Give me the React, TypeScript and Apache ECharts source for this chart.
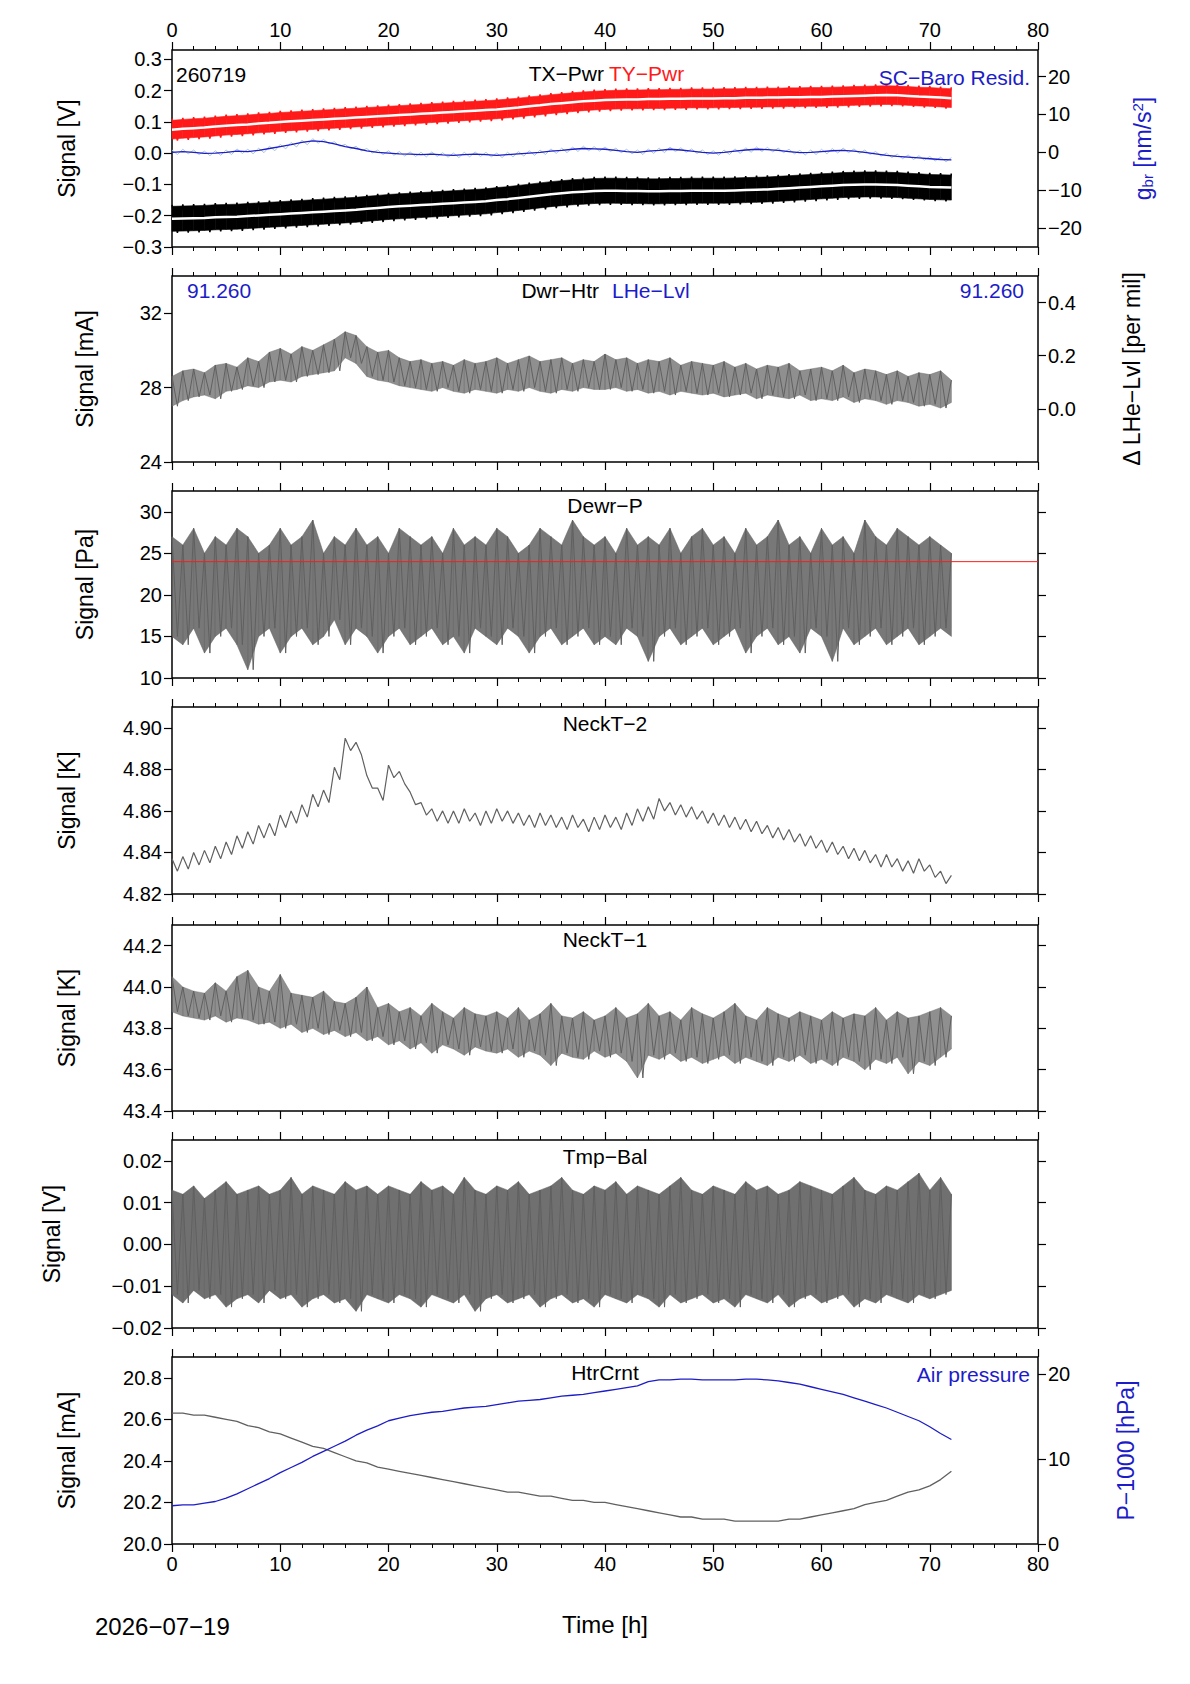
import { useEffect, useRef } from 'react';
import * as echarts from 'echarts';

// hourly samples, 0..72 h
const hours = Array.from({ length: 73 }, (_, i) => i);

// panel 1: TX/TY power (V) and SC baro residual (nm/s^2)
const tyPwr = [.075,.078,.080,.082,.085,.088,.090,.092,.095,.097,.100,.102,.104,.106,.108,.110,.112,.114,.116,.118,.120,.122,.124,.126,.128,.130,.132,.134,.136,.138,.140,.143,.146,.150,.153,.157,.160,.163,.166,.168,.170,.171,.172,.172,.173,.173,.174,.174,.175,.175,.175,.176,.176,.177,.177,.178,.178,.179,.179,.180,.180,.181,.182,.183,.184,.185,.186,.185,.183,.181,.180,.178,.176];
const txPwr = [-.210,-.209,-.208,-.207,-.205,-.204,-.203,-.201,-.199,-.197,-.195,-.193,-.191,-.189,-.187,-.185,-.183,-.181,-.178,-.175,-.172,-.170,-.168,-.166,-.164,-.162,-.160,-.158,-.156,-.154,-.150,-.147,-.143,-.139,-.135,-.131,-.128,-.125,-.123,-.121,-.120,-.120,-.121,-.121,-.122,-.122,-.121,-.121,-.120,-.120,-.120,-.120,-.119,-.118,-.117,-.116,-.114,-.112,-.110,-.108,-.106,-.104,-.102,-.101,-.100,-.100,-.101,-.102,-.104,-.106,-.108,-.109,-.110];
const tyNoise = 0.03;
const txNoise = 0.04;
const baroResid = [0,0.2,0,-0.3,-0.2,0,0.3,0.2,0.5,1.0,1.5,2.0,2.6,3.0,2.8,2.2,1.5,1.0,0.4,0,-0.2,-0.4,-0.5,-0.6,-0.5,-0.7,-0.8,-0.6,-0.5,-0.6,-0.8,-0.6,-0.4,-0.2,0,0.3,0.5,0.8,1.0,0.9,0.8,0.5,0.2,0,0.3,0.5,0.8,0.6,0.3,0,-0.2,0,0.3,0.6,0.8,0.7,0.5,0.2,-0.1,0,0.2,0.4,0.5,0.3,0,-0.4,-0.8,-1.1,-1.3,-1.5,-1.7,-1.9,-2.0];
const baroNoise = 0.6;

// panel 2: dewar heater (mA)
const dwrHtrHi = [28.6,28.9,29.0,28.8,29.2,29.3,29.1,29.6,29.4,29.9,30.1,29.8,30.2,30.0,30.3,30.6,31.0,30.8,30.2,29.9,30.0,29.6,29.4,29.5,29.3,29.4,29.2,29.5,29.3,29.4,29.6,29.3,29.5,29.7,29.4,29.5,29.6,29.3,29.5,29.4,29.8,29.5,29.6,29.3,29.5,29.4,29.6,29.2,29.4,29.3,29.2,29.4,29.1,29.3,29.0,29.2,29.1,29.3,28.9,29.0,29.1,28.9,29.2,28.8,29.0,28.9,28.7,28.9,28.6,28.8,28.7,28.9,28.4];
const dwrHtrLo = [27.0,27.3,27.5,27.6,27.4,27.8,27.9,28.1,28.0,28.3,28.4,28.3,28.6,28.7,28.8,28.9,29.6,29.3,28.6,28.4,28.3,28.1,28.0,27.9,27.8,28.0,27.8,27.7,27.9,27.8,27.7,27.9,27.8,28.0,27.8,27.7,27.9,27.8,28.0,27.9,27.9,28.0,27.8,27.9,27.7,27.8,27.6,27.8,27.7,27.6,27.7,27.5,27.6,27.7,27.4,27.6,27.5,27.4,27.6,27.3,27.4,27.3,27.5,27.2,27.4,27.3,27.1,27.3,27.2,27.0,27.1,26.9,27.2];

// panel 3: dewar pressure (Pa)
const dewrPHi = [27,26,28,25,27,26,28,27,25,26,28,26,27,29,25,27,26,28,26,27,25,28,27,26,27,25,28,26,27,26,28,27,25,26,28,27,26,29,27,26,27,25,28,26,27,26,28,25,27,28,26,27,25,28,26,27,29,26,27,25,28,26,27,25,29,27,26,28,27,26,27,26,25];
const dewrPLo = [15,14,16,13,15,16,14,11,15,16,13,15,16,14,15,17,14,16,15,13,15,16,14,15,16,14,15,13,16,15,14,16,15,13,15,16,14,15,16,14,15,14,16,15,12,15,16,14,15,16,14,15,16,13,15,16,14,15,13,16,15,12,16,14,15,16,14,15,16,14,15,16,15];
const dewrPLimit = 24;

// panel 4: neck temperature 2 (K)
const neckT2 = [4.834,4.835,4.837,4.838,4.840,4.842,4.845,4.847,4.850,4.851,4.855,4.857,4.860,4.865,4.867,4.878,4.892,4.890,4.874,4.868,4.879,4.876,4.866,4.861,4.858,4.857,4.857,4.858,4.856,4.857,4.858,4.857,4.856,4.855,4.856,4.855,4.854,4.855,4.853,4.854,4.855,4.854,4.856,4.858,4.859,4.863,4.861,4.860,4.859,4.857,4.856,4.855,4.854,4.853,4.852,4.850,4.849,4.848,4.846,4.845,4.843,4.842,4.840,4.839,4.838,4.836,4.836,4.834,4.833,4.834,4.831,4.828,4.826];
const neckT2Noise = 0.003;

// panel 5: neck temperature 1 (K)
const neckT1Hi = [44.05,44.00,43.98,43.97,44.02,43.98,44.05,44.08,44.00,43.98,44.06,43.97,43.96,43.95,43.98,43.93,43.92,43.95,44.00,43.90,43.92,43.88,43.90,43.86,43.92,43.88,43.85,43.90,43.87,43.86,43.88,43.85,43.90,43.84,43.87,43.92,43.86,43.85,43.88,43.84,43.86,43.90,43.85,43.87,43.92,43.86,43.88,43.84,43.90,43.87,43.85,43.88,43.92,43.86,43.84,43.90,43.87,43.85,43.88,43.86,43.84,43.88,43.85,43.87,43.86,43.90,43.84,43.88,43.85,43.86,43.88,43.90,43.86];
const neckT1Lo = [43.88,43.86,43.85,43.84,43.86,43.83,43.85,43.84,43.82,43.83,43.80,43.82,43.78,43.80,43.77,43.79,43.76,43.78,43.74,43.76,43.72,43.74,43.70,43.73,43.68,43.72,43.70,43.67,43.71,43.69,43.68,43.70,43.66,43.69,43.67,43.62,43.68,43.66,43.65,43.69,43.66,43.68,43.64,43.56,43.67,43.65,43.68,43.64,43.66,43.63,43.65,43.67,43.63,43.66,43.64,43.62,43.66,43.64,43.67,43.63,43.65,43.62,43.66,43.64,43.60,43.65,43.63,43.66,43.58,43.64,43.62,43.66,43.70];

// panel 6: temperature balance (V)
const tmpBalHi = [.013,.012,.014,.011,.013,.015,.012,.013,.014,.012,.013,.016,.012,.014,.013,.012,.015,.013,.014,.012,.014,.013,.012,.015,.013,.014,.012,.016,.013,.012,.014,.013,.015,.012,.013,.014,.016,.013,.012,.014,.013,.015,.012,.014,.013,.012,.014,.016,.013,.012,.014,.013,.012,.015,.013,.014,.012,.013,.015,.014,.013,.012,.014,.016,.013,.012,.014,.013,.015,.017,.013,.016,.012];
const tmpBalLo = [-.012,-.014,-.011,-.013,-.012,-.015,-.013,-.012,-.014,-.011,-.013,-.012,-.015,-.013,-.012,-.014,-.013,-.016,-.012,-.013,-.014,-.012,-.013,-.015,-.012,-.013,-.014,-.012,-.016,-.013,-.012,-.014,-.013,-.012,-.015,-.013,-.012,-.014,-.013,-.015,-.012,-.013,-.014,-.012,-.013,-.015,-.012,-.014,-.013,-.012,-.014,-.013,-.015,-.012,-.013,-.014,-.012,-.015,-.013,-.012,-.014,-.013,-.012,-.015,-.013,-.014,-.012,-.013,-.014,-.012,-.013,-.012,-.011];

// panel 7: heater current (mA) and air pressure (P-1000 hPa)
const htrCrnt = [20.63,20.63,20.62,20.62,20.61,20.60,20.59,20.57,20.56,20.54,20.53,20.51,20.49,20.47,20.46,20.44,20.42,20.40,20.39,20.37,20.36,20.35,20.34,20.33,20.32,20.31,20.30,20.29,20.28,20.27,20.26,20.25,20.25,20.24,20.23,20.23,20.22,20.21,20.21,20.20,20.20,20.19,20.18,20.17,20.16,20.15,20.14,20.13,20.13,20.12,20.12,20.12,20.11,20.11,20.11,20.11,20.11,20.12,20.12,20.13,20.14,20.15,20.16,20.17,20.19,20.20,20.21,20.23,20.25,20.26,20.28,20.31,20.35];
const airPressure = [4.5,4.6,4.6,4.8,5.0,5.4,5.9,6.5,7.1,7.7,8.4,9.0,9.6,10.3,10.9,11.5,12.1,12.8,13.4,13.9,14.5,14.8,15.1,15.3,15.5,15.6,15.8,16.0,16.1,16.2,16.4,16.6,16.8,16.9,17.0,17.2,17.4,17.5,17.6,17.8,18.0,18.2,18.4,18.6,19.1,19.3,19.3,19.4,19.4,19.3,19.3,19.3,19.3,19.4,19.4,19.3,19.2,19.0,18.8,18.5,18.2,17.9,17.6,17.2,16.8,16.4,16.0,15.5,15.0,14.5,13.8,13.0,12.3];

const GRAY = '#606060';
const BLUE = '#1c1cc8';
const RED = '#ff1a1a';
const FONT = 'Liberation Sans';

const tops = [50, 276, 491, 707, 925, 1140, 1357];
const bottoms = [247, 462, 678, 894, 1111, 1328, 1544];

const pair = (ys: number[]) => hours.map((h, i) => [h, ys[i]]);
const zig = (hi: number[], lo: number[]) => {
    const out: number[][] = [];
    hours.forEach((h, i) => {
        out.push([h, hi[i]]);
        if (i < hours.length - 1) out.push([h + 0.5, lo[i]]);
    });
    return out;
};
const plus = (c: number[], a: number) => c.map((v) => v + a);

const fmt = (d: number) => (v: number) => v.toFixed(d).replace('-', '\u2212');

export default function App() {
    const chartRef = useRef<HTMLDivElement>(null);

    useEffect(() => {
        if (!chartRef.current) return;
        const chart = echarts.init(chartRef.current, null, { renderer: 'svg' });

        const grid = tops.map((t, i) => ({
            left: 172,
            right: 152,
            top: t,
            height: bottoms[i] - t,
            show: true,
            borderColor: '#000',
            borderWidth: 1.5,
            backgroundColor: 'transparent',
        }));

        const xAxis: any[] = [];
        tops.forEach((_, i) => {
            ['bottom', 'top'].forEach((pos) => {
                const showLabel = (i === 0 && pos === 'top') || (i === 6 && pos === 'bottom');
                xAxis.push({
                    type: 'value',
                    gridIndex: i,
                    position: pos,
                    min: 0,
                    max: 80,
                    interval: 10,
                    axisLine: { show: false, onZero: false },
                    splitLine: { show: false },
                    axisTick: { show: true, length: 8, lineStyle: { color: '#000', width: 1.2 } },
                    minorTick: { show: true, splitNumber: 5, length: 4, lineStyle: { color: '#000' } },
                    axisLabel: { show: showLabel, color: '#000', fontSize: 20, fontFamily: FONT, margin: 10 },
                    name: i === 6 && pos === 'bottom' ? 'Time [h]' : '',
                    nameLocation: 'middle',
                    nameGap: 68,
                    nameTextStyle: { color: '#000', fontSize: 24, fontFamily: FONT },
                });
            });
        });

        const yAx = (
            gi: number, pos: string, min: number, max: number, ticks: number[], d: number,
            showLabel: boolean, name = '', nameGap = 0, color = '#000', rich?: any
        ) => ({
            type: 'value',
            gridIndex: gi,
            position: pos,
            min,
            max,
            axisLine: { show: false, onZero: false },
            splitLine: { show: false },
            axisTick: { show: true, length: 8, customValues: ticks, lineStyle: { color: '#000', width: 1.2 } },
            axisLabel: {
                show: showLabel, customValues: ticks, formatter: fmt(d),
                color: '#000', fontSize: 20, fontFamily: FONT, margin: 10,
            },
            name,
            nameLocation: 'middle',
            nameGap,
            nameTextStyle: { color, fontSize: 23, fontFamily: FONT, rich },
        });

        const supRich = {
            s: { fontSize: 15, color: BLUE, fontFamily: FONT, padding: [10, 0, 0, 0] },
            p: { fontSize: 15, color: BLUE, fontFamily: FONT, padding: [0, 0, 10, 0] },
        };

        const t1 = [-0.3, -0.2, -0.1, 0, 0.1, 0.2, 0.3];
        const t2 = [24, 28, 32];
        const t3 = [10, 15, 20, 25, 30];
        const t4 = [4.82, 4.84, 4.86, 4.88, 4.9];
        const t5 = [43.4, 43.6, 43.8, 44.0, 44.2];
        const t6 = [-0.02, -0.01, 0, 0.01, 0.02];
        const t7 = [20.0, 20.2, 20.4, 20.6, 20.8];

        const yAxis: any[] = [
            yAx(0, 'left', -0.3, 0.33, t1, 1, true, 'Signal [V]', 94),
            yAx(0, 'right', -25, 27, [-20, -10, 0, 10, 20], 0, true, 'g{s|br} [nm/s{p|2}]', 92, BLUE, supRich),
            yAx(1, 'left', 24, 34, t2, 0, true, 'Signal [mA]', 76),
            yAx(1, 'right', -0.2, 0.5, [0, 0.2, 0.4], 1, true, '\u0394 LHe\u2212Lvl [per mil]', 82),
            yAx(2, 'left', 10, 32.5, t3, 0, true, 'Signal [Pa]', 76),
            yAx(2, 'right', 10, 32.5, t3, 0, false),
            yAx(3, 'left', 4.82, 4.91, t4, 2, true, 'Signal [K]', 94),
            yAx(3, 'right', 4.82, 4.91, t4, 2, false),
            yAx(4, 'left', 43.4, 44.3, t5, 1, true, 'Signal [K]', 94),
            yAx(4, 'right', 43.4, 44.3, t5, 1, false),
            yAx(5, 'left', -0.02, 0.025, t6, 2, true, 'Signal [V]', 109),
            yAx(5, 'right', -0.02, 0.025, t6, 2, false),
            yAx(6, 'left', 20.0, 20.9, t7, 1, true, 'Signal [mA]', 94),
            yAx(6, 'right', 0, 22, [0, 10, 20], 0, true, 'P\u22121000 [hPa]', 76, BLUE),
        ];

        const line = (gi: number, yi: number, data: number[][], color: string, width = 1, extra: any = {}) => ({
            type: 'line',
            xAxisIndex: gi * 2,
            yAxisIndex: yi,
            data,
            showSymbol: false,
            symbol: 'none',
            lineStyle: { color, width },
            z: 3,
            ...extra,
        });

        // filled envelope between lo and hi, one quad per hour step
        const fill = (gi: number, yi: number, hi: number[], lo: number[], color: string, opacity: number) => ({
            type: 'custom',
            xAxisIndex: gi * 2,
            yAxisIndex: yi,
            z: 2,
            silent: true,
            data: hours.slice(0, -1).map((h, i) => [h, hi[i], lo[i], hours[i + 1], hi[i + 1], lo[i + 1]]),
            encode: { x: [0, 3], y: [1, 2, 4, 5] },
            renderItem: (_p: any, api: any) => ({
                type: 'polygon',
                shape: {
                    points: [
                        api.coord([api.value(0), api.value(1)]),
                        api.coord([api.value(3), api.value(4)]),
                        api.coord([api.value(3), api.value(5)]),
                        api.coord([api.value(0), api.value(2)]),
                    ],
                },
                style: { fill: color, opacity, stroke: color, lineWidth: 0.6 },
            }),
        });

        const series: any[] = [
            fill(0, 0, plus(tyPwr, tyNoise), plus(tyPwr, -tyNoise), RED, 1),
            line(0, 0, zig(plus(tyPwr, tyNoise + 0.005), plus(tyPwr, -tyNoise - 0.005)), RED, 1.5),
            line(0, 0, pair(tyPwr), '#fff', 2.5),
            fill(0, 0, plus(txPwr, txNoise), plus(txPwr, -txNoise), '#000', 1),
            line(0, 0, zig(plus(txPwr, txNoise + 0.005), plus(txPwr, -txNoise - 0.005)), '#000', 1.5),
            line(0, 0, pair(txPwr), '#fff', 2.5),
            line(0, 1, zig(plus(baroResid, baroNoise), plus(baroResid, -baroNoise)), '#a9c9d6', 1),
            line(0, 1, pair(baroResid), BLUE, 1.3),
            fill(1, 2, dwrHtrHi, dwrHtrLo, '#6a6a6a', 0.75),
            line(1, 2, zig(dwrHtrHi, dwrHtrLo), GRAY),
            fill(2, 4, dewrPHi, dewrPLo, GRAY, 0.85),
            line(2, 4, zig(dewrPHi, dewrPLo), GRAY),
            line(2, 4, [[0, dewrPLimit], [80, dewrPLimit]], RED, 1, { z: 10 }),
            line(3, 6, zig(plus(neckT2, neckT2Noise), plus(neckT2, -neckT2Noise)), GRAY, 1.2),
            fill(4, 8, neckT1Hi, neckT1Lo, '#6a6a6a', 0.75),
            line(4, 8, zig(neckT1Hi, neckT1Lo), GRAY),
            fill(5, 10, tmpBalHi, tmpBalLo, GRAY, 0.9),
            line(5, 10, zig(tmpBalHi, tmpBalLo), GRAY),
            line(6, 12, pair(htrCrnt), GRAY, 1.3),
            line(6, 13, pair(airPressure), BLUE, 1.3),
        ];

        const txt = (x: number, y: number, text: string, fill = '#000', align = 'left') => ({
            type: 'text', x, y, z: 10,
            style: { text, fill, font: `21px "${FONT}"`, align, verticalAlign: 'middle' },
        });

        const graphic = [
            txt(176, 74, '260719'),
            txt(604, 73, 'TX\u2212Pwr', '#000', 'right'),
            txt(609, 73, 'TY\u2212Pwr', RED),
            txt(1030, 77, 'SC\u2212Baro Resid.', BLUE, 'right'),
            txt(187, 290, '91.260', BLUE),
            txt(1024, 290, '91.260', BLUE, 'right'),
            txt(599, 290, 'Dwr\u2212Htr', '#000', 'right'),
            txt(612, 290, 'LHe\u2212Lvl', BLUE),
            txt(605, 505, 'Dewr\u2212P', '#000', 'center'),
            txt(605, 723, 'NeckT\u22122', '#000', 'center'),
            txt(605, 939, 'NeckT\u22121', '#000', 'center'),
            txt(605, 1156, 'Tmp\u2212Bal', '#000', 'center'),
            txt(605, 1372, 'HtrCrnt', '#000', 'center'),
            txt(1030, 1374, 'Air pressure', BLUE, 'right'),
            { type: 'text', x: 95, y: 1626, style: { text: '2026\u221207\u221219', fill: '#000', font: `24px "${FONT}"`, verticalAlign: 'middle' } },
        ];

        chart.setOption({
            animation: false,
            backgroundColor: '#fff',
            textStyle: { fontFamily: FONT },
            grid,
            xAxis,
            yAxis,
            series,
            graphic,
        });

        return () => chart.dispose();
    }, []);

    return (
        <div
            ref={chartRef}
            style={{ position: 'absolute', left: 0, top: 0, width: 1190, height: 1684 }}
        />
    );
}
